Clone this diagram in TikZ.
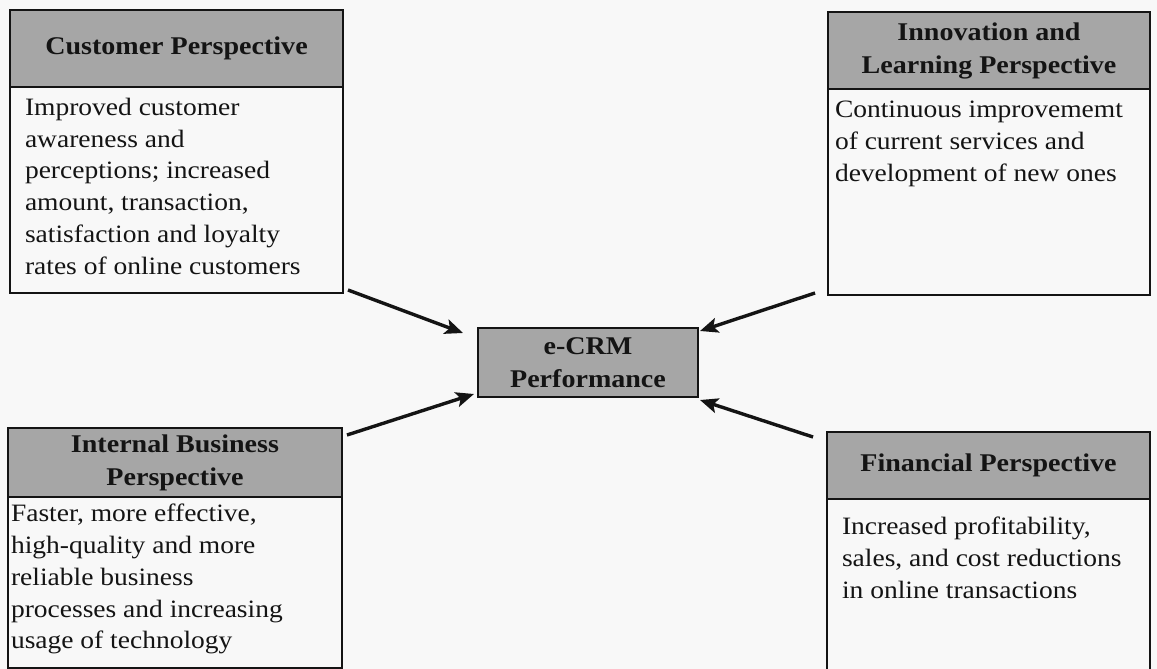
\documentclass[tikz,border=0pt]{standalone}
\usepackage{fontspec}
\setmainfont[FakeStretch=1.1]{Liberation Serif}
\usetikzlibrary{arrows.meta,calc}
\definecolor{hdrgray}{RGB}{166,166,166}
\definecolor{paper}{RGB}{248,248,248}
\definecolor{ink}{RGB}{20,20,20}
\begin{document}
\begin{tikzpicture}[x=1pt,y=-1pt,
  every node/.style={outer sep=0pt},
  hdr/.style={draw=ink,line width=2pt,fill=hdrgray,anchor=north west,inner sep=0pt,
    align=center,font=\fontsize{25.5}{33}\selectfont\bfseries,text=ink},
  panel/.style={draw=ink,line width=2pt,anchor=north west,inner sep=0pt},
  body/.style={anchor=north west,inner sep=0pt,align=left,
    font=\fontsize{25}{31.8}\selectfont,text=ink},
  arr/.style={draw=ink,line width=3.4pt,-{Stealth[length=18pt,width=15pt,inset=4pt]}}]

% page
\fill[paper] (0,0) rectangle (1157,669);
\useasboundingbox (0,0) rectangle (1157,669);

% Customer perspective
\node[hdr,minimum width=333pt,minimum height=77pt] (cusH) at (10,10) {Customer Perspective};
\node[panel,minimum width=333pt,minimum height=206pt] (cusB) at (cusH.south west) {};
\node[body] (cusT) at ($(cusB.north west)+(15,11)$)
  {Improved customer\\awareness and\\perceptions; increased\\amount, transaction,\\satisfaction and loyalty\\rates of online customers};

% Innovation and learning perspective
\node[hdr,minimum width=322pt,minimum height=77pt] (innH) at (828,12) {Innovation and\\Learning Perspective};
\node[panel,minimum width=322pt,minimum height=206pt] (innB) at (innH.south west) {};
\node[body] (innT) at ($(innB.north west)+(7,12)$)
  {Continuous improvememt\\of current services and\\development of new ones};

% Internal business perspective
\node[hdr,minimum width=334pt,minimum height=69pt] (intH) at (8,428) {Internal Business\\Perspective};
\node[panel,minimum width=334pt,minimum height=171pt] (intB) at (intH.south west) {};
\node[body] (intT) at ($(intB.north west)+(3,7)$)
  {Faster, more effective,\\high-quality and more\\reliable business\\processes and increasing\\usage of technology};

% Financial perspective
\node[hdr,minimum width=323pt,minimum height=67pt] (finH) at (827,432) {Financial Perspective};
\node[panel,minimum width=323pt,minimum height=175pt] (finB) at (finH.south west) {};
\node[body] (finT) at ($(finB.north west)+(15,18)$)
  {Increased profitability,\\sales, and cost reductions\\in online transactions};

% Central outcome
\node[hdr,minimum width=220pt,minimum height=69pt] (crm) at (478,328) {e-CRM\\Performance};

% Links into the outcome
\draw[arr] ($(cusB.south east)+(5,-3)$) -- ($(crm.north west)+(-15,5)$);
\draw[arr] ($(innB.south west)+(-13,-2)$) -- ($(crm.north east)+(2,3)$);
\draw[arr] ($(intH.north east)+(5,7)$) -- ($(crm.south west)+(-4,-3)$);
\draw[arr] ($(finH.north west)+(-14,5)$) -- ($(crm.south east)+(2,3)$);
\end{tikzpicture}
\end{document}
